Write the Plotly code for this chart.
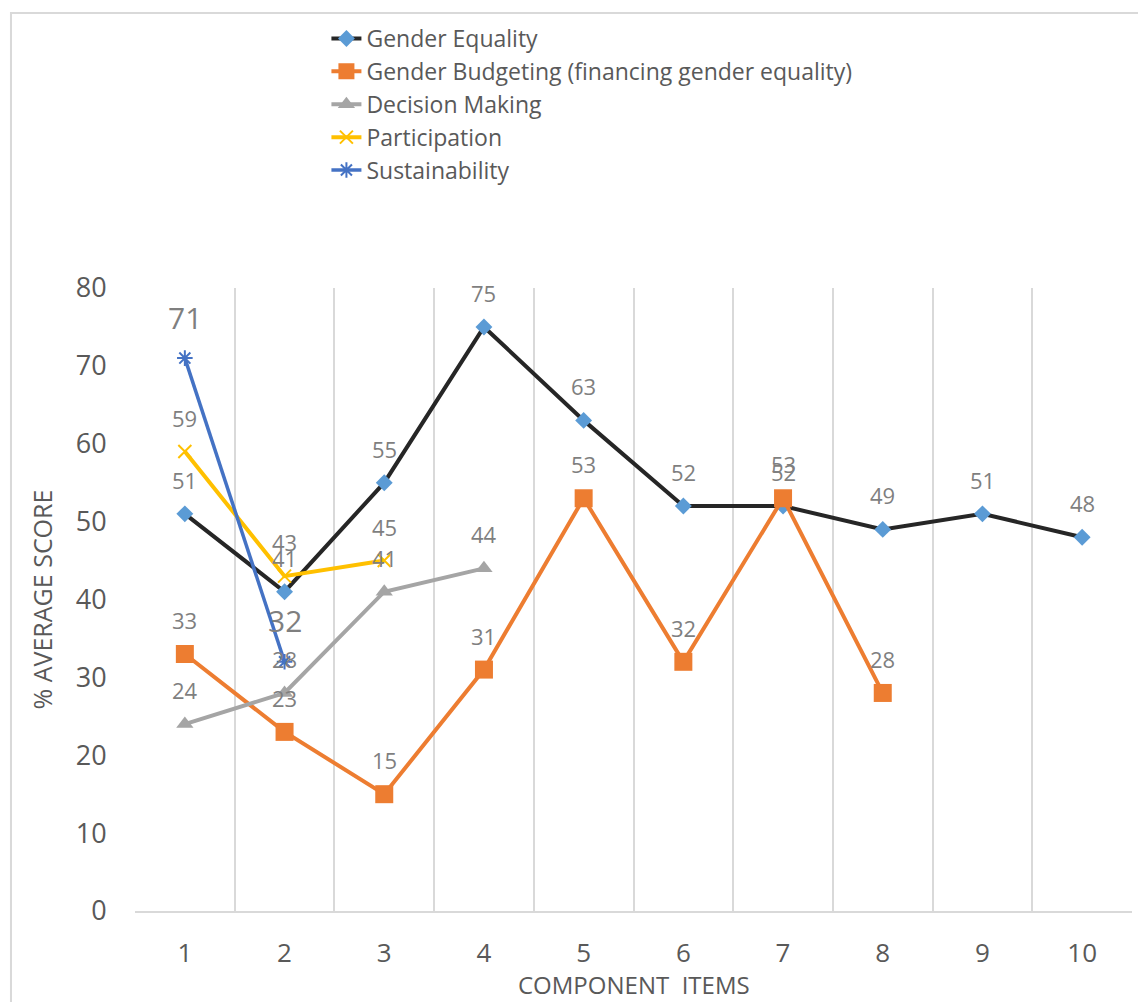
import plotly.graph_objects as go

categories = ["1", "2", "3", "4", "5", "6", "7", "8", "9", "10"]
gender_equality = [51, 41, 55, 75, 63, 52, 52, 49, 51, 48]
gender_budgeting = [33, 23, 15, 31, 53, 32, 53, 28]
decision_making = [24, 28, 41, 44]
participation = [59, 43, 45]
sustainability = [71, 32]

FONT = "Open Sans"
LABEL_GRAY = "#7f7f7f"
TEXT_GRAY = "#595959"

series = [
    dict(name="Gender Equality", y=gender_equality, color="#262626",
         marker=dict(symbol="diamond", size=13, color="#5B9BD5"), width=4,
         lab_size=22, lab_shift=34),
    dict(name="Gender Budgeting (financing gender equality)", y=gender_budgeting, color="#ED7D31",
         marker=dict(symbol="square", size=18, color="#ED7D31"), width=4,
         lab_size=22, lab_shift=34),
    dict(name="Decision Making", y=decision_making, color="#A5A5A5",
         marker=dict(symbol="triangle-up", size=15, color="#A5A5A5"), width=4,
         lab_size=22, lab_shift=34),
    dict(name="Participation", y=participation, color="#FFC000",
         marker=dict(symbol="x-thin-open", size=13, color="#FFC000",
                     line=dict(color="#FFC000", width=2)), width=4,
         lab_size=22, lab_shift=34),
    dict(name="Sustainability", y=sustainability, color="#4472C4",
         marker=dict(symbol="asterisk-open", size=13, color="#4472C4",
                     line=dict(color="#4472C4", width=2)), width=3.5,
         lab_size=30, lab_shift=41),
]

fig = go.Figure()
annotations = []
for s in series:
    xs = categories[:len(s["y"])]
    fig.add_trace(go.Scatter(
        x=xs, y=s["y"], name=s["name"], mode="lines+markers",
        line=dict(color=s["color"], width=s["width"]),
        marker=s["marker"],
    ))
    for i, yv in enumerate(s["y"]):
        annotations.append(dict(
            x=i, y=yv, text=str(yv), showarrow=False, yshift=s["lab_shift"],
            font=dict(family=FONT, size=s["lab_size"], color=LABEL_GRAY),
        ))

# x-axis title placed as a paper annotation for precise positioning
annotations.append(dict(
    xref="paper", yref="paper", x=0.5, y=-0.1172, xanchor="center", yanchor="middle",
    text="COMPONENT  ITEMS", showarrow=False,
    font=dict(family=FONT, size=24, color=TEXT_GRAY),
))

fig.update_layout(
    width=1138, height=1002,
    margin=dict(l=135, r=6, t=288, b=91, autoexpand=False),
    paper_bgcolor="white", plot_bgcolor="white",
    font=dict(family=FONT, color=TEXT_GRAY),
    showlegend=True,
    legend=dict(
        x=0.192, y=1.435, xanchor="left", yanchor="top",
        font=dict(family=FONT, size=23, color=TEXT_GRAY),
        bgcolor="rgba(0,0,0,0)", tracegroupgap=0,
    ),
    annotations=annotations,
    shapes=[dict(type="rect", xref="paper", yref="paper",
                 x0=-0.1244, x1=1.3, y0=-0.5, y1=1.4414,
                 line=dict(color="#d9d9d9", width=2), layer="below")],
)

fig.update_xaxes(
    type="category", categoryorder="array", categoryarray=categories,
    range=[-0.5, len(categories) - 0.5], autorange=False,
    tickson="boundaries", showgrid=True, gridcolor="#d9d9d9", gridwidth=2,
    showline=True, linecolor="#d9d9d9", linewidth=2,
    ticks="", ticklabelstandoff=18,
    tickfont=dict(family=FONT, size=26, color=TEXT_GRAY),
    zeroline=False,
)
fig.update_yaxes(
    range=[0, 80], dtick=10, showgrid=False, zeroline=False, showline=False,
    ticks="outside", ticklen=22, tickcolor="rgba(0,0,0,0)",
    tickfont=dict(family=FONT, size=27, color=TEXT_GRAY),
    title=dict(text="% AVERAGE SCORE", font=dict(family=FONT, size=25, color=TEXT_GRAY), standoff=15),
)

fig.write_html("out.html", config={"displayModeBar": False},
               post_script="document.body.style.margin='0px';")
